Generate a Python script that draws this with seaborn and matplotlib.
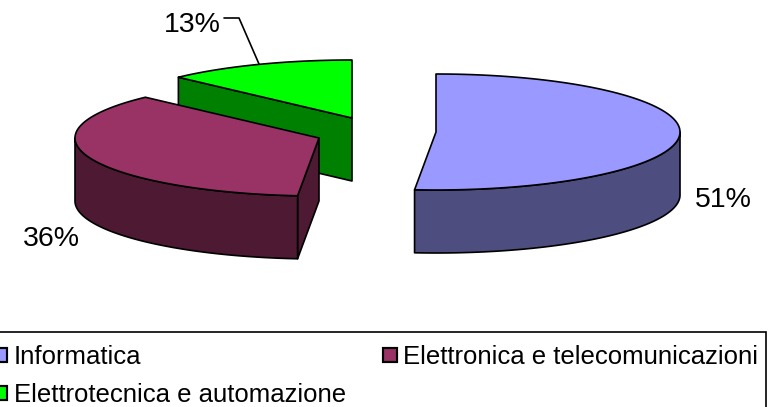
import numpy as np
import seaborn as sns
import matplotlib.pyplot as plt
from matplotlib.patches import Patch, Rectangle

categories = ['Informatica', 'Elettronica e telecomunicazioni', 'Elettrotecnica e automazione']
shares = [51.4, 36.0, 12.6]
share_labels = ['51%', '36%', '13%']

top_colors = ['#9999FF', '#993366', '#00FF00']
side_colors = ['#4D4D80', '#4D1933', '#008000']

# slice apex positions after explosion, in pixels
centers = {0: (436, 132), 1: (319, 138), 2: (352, 118)}
RX, RY, DEPTH = 244, 58, 63
LW = 1.2


def ring(cx, cy, a0, a1, drop=0):
    a = np.radians(np.linspace(a0, a1, 120))
    return cx + RX * np.sin(a), cy - RY * np.cos(a) + drop


sns.set_theme(style='white')
plt.rcParams['font.family'] = ['Liberation Sans', 'DejaVu Sans']

fig = plt.figure(figsize=(7.76, 4.07), dpi=100)
ax = fig.add_axes([0, 0, 1, 1])
ax.set_xlim(0, 776)
ax.set_ylim(407, 0)
ax.axis('off')

ends = np.cumsum(shares) / np.sum(shares) * 360
starts = np.r_[0, ends[:-1]]

# back to front so the front slices cover the back ones
for i in [2, 1, 0]:
    cx, cy = centers[i]
    a0, a1 = starts[i], ends[i]
    style = dict(edgecolor='black', linewidth=LW, joinstyle='round')
    # cut face
    if 180 < a0 < 360:
        x, y = ring(cx, cy, a0, a0)
        ax.fill([cx, x[0], x[0], cx], [cy, y[0], y[0] + DEPTH, cy + DEPTH], facecolor=side_colors[i], **style)
    # outer wall
    w0, w1 = max(a0, 90), min(a1, 270)
    if w0 < w1:
        x, y = ring(cx, cy, w0, w1)
        ax.fill(np.r_[x, x[::-1]], np.r_[y, y[::-1] + DEPTH], facecolor=side_colors[i], **style)
    # top face
    x, y = ring(cx, cy, a0, a1)
    ax.fill(np.r_[cx, x], np.r_[cy, y], facecolor=top_colors[i], **style)

ax.text(723, 200, share_labels[0], fontsize=20.5, ha='center', va='center', color='black')
ax.text(51, 239, share_labels[1], fontsize=20.5, ha='center', va='center', color='black')
ax.text(192, 25, share_labels[2], fontsize=20.5, ha='center', va='center', color='black')
ax.plot([224, 239, 259], [18, 18, 64], color='black', lw=LW)

# frame runs off the left and bottom of the picture
ax.add_patch(Rectangle((-5, 332), 771, 90, facecolor='white', edgecolor='black', linewidth=LW, clip_on=True))

handles = [Patch(facecolor=top_colors[k], edgecolor='black', linewidth=LW * 1.3) for k in [0, 2, 1]]
labels = [categories[k] for k in [0, 2, 1]]
leg = ax.legend(handles, labels, ncol=2, loc='upper left', bbox_to_anchor=(-7, 345),
                bbox_transform=ax.transData, fontsize=18.5, frameon=False,
                labelcolor='black', handlelength=0.54, handleheight=0.5,
                handletextpad=0.26, labelspacing=0.55, columnspacing=1.45, borderpad=0,
                borderaxespad=0)

fig.savefig('out.png', dpi=100)
